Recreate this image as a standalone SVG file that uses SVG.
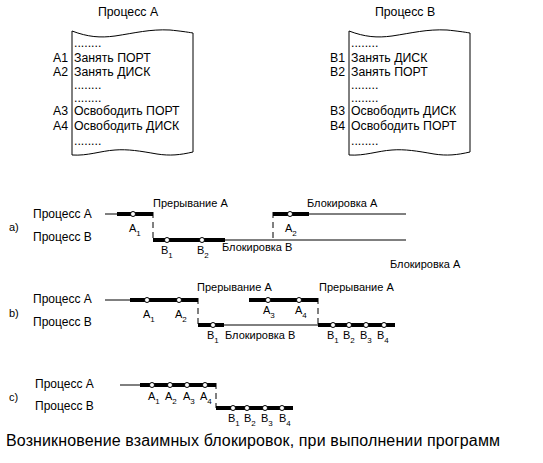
<svg xmlns="http://www.w3.org/2000/svg" width="543" height="463" viewBox="0 0 543 463">
<style>
text{font-family:"Liberation Sans",Arial,sans-serif;fill:#000}
.t{font-size:12.3px}
.p{font-size:12px}
.s{font-size:11px}
.sub{font-size:8px}
.doc{fill:#fff;stroke:#000;stroke-width:1}
.thin{stroke:#000;stroke-width:1;fill:none}
.thick{stroke:#000;stroke-width:4;fill:none}
.dash{stroke:#000;stroke-width:1;stroke-dasharray:6,4;fill:none}
.pt{fill:#fff;stroke:#000;stroke-width:1}
.cap{font-size:16px}
</style>
<rect width="543" height="463" fill="#fff"/>
<g id="doc-A">
<text class="t" x="128" y="16" text-anchor="middle">Процесс А</text>
<path class="doc" d="M72,31 C88,37 100,38 115,36 C135,33 150,29 170,30 C180,31 187,32 193,33 L193,152 C180,155 170,156 157,154 C140,151 128,149 115,150 C100,151 88,156 72,155 Z"/>
<text class="t" x="74" y="47">........</text>
<text class="t" x="53" y="62">А1</text><text class="t" x="74" y="62">Занять ПОРТ</text>
<text class="t" x="53" y="76">А2</text><text class="t" x="74" y="76">Занять ДИСК</text>
<text class="t" x="74" y="89">........</text>
<text class="t" x="74" y="102">........</text>
<text class="t" x="53" y="115">А3</text><text class="t" x="74" y="115">Освободить ПОРТ</text>
<text class="t" x="53" y="130">А4</text><text class="t" x="74" y="130">Освободить ДИСК</text>
<text class="t" x="74" y="145">........</text>
</g>
<g id="doc-B">
<text class="t" x="405" y="16" text-anchor="middle">Процесс В</text>
<path class="doc" d="M349,31 C365,37 377,38 392,36 C412,33 427,29 447,30 C457,31 464,32 470,33 L470,152 C457,155 447,156 434,154 C417,151 405,149 392,150 C377,151 365,156 349,155 Z"/>
<text class="t" x="351" y="47">........</text>
<text class="t" x="330" y="62">В1</text><text class="t" x="351" y="62">Занять ДИСК</text>
<text class="t" x="330" y="76">В2</text><text class="t" x="351" y="76">Занять ПОРТ</text>
<text class="t" x="351" y="89">........</text>
<text class="t" x="351" y="102">........</text>
<text class="t" x="330" y="115">В3</text><text class="t" x="351" y="115">Освободить ДИСК</text>
<text class="t" x="330" y="130">В4</text><text class="t" x="351" y="130">Освободить ПОРТ</text>
<text class="t" x="351" y="145">........</text>
</g>
<g id="labels">
<text class="s" x="9" y="231">а)</text>
<text class="p" x="33" y="218">Процесс А</text>
<text class="p" x="33" y="241">Процесс В</text>
<text class="s" x="9" y="317">b)</text>
<text class="p" x="33" y="303">Процесс А</text>
<text class="p" x="33" y="326">Процесс В</text>
<text class="s" x="9" y="401">с)</text>
<text class="p" x="35" y="388">Процесс А</text>
<text class="p" x="35" y="410">Процесс В</text>
<text class="cap" x="6" y="446" textLength="494" lengthAdjust="spacing">Возникновение взаимных блокировок, при выполнении программ</text>
</g>
<g id="connectors">
<line class="thin" x1="105" y1="214" x2="117" y2="214"/>
<line class="thick" x1="117" y1="214" x2="153" y2="214"/>
<line class="dash" x1="153" y1="212" x2="153" y2="240"/>
<line class="thick" x1="153" y1="240" x2="225" y2="240"/>
<line class="thin" x1="225" y1="240" x2="406" y2="240"/>
<line class="dash" x1="273" y1="212" x2="273" y2="240"/>
<line class="thick" x1="273" y1="214" x2="309" y2="214"/>
<line class="thin" x1="309" y1="214" x2="406" y2="214"/>
<line class="thin" x1="105" y1="300" x2="130" y2="300"/>
<line class="thick" x1="130" y1="300" x2="198" y2="300"/>
<line class="dash" x1="198" y1="298" x2="198" y2="325"/>
<line class="thick" x1="198" y1="325" x2="224" y2="325"/>
<line class="thin" x1="224" y1="325" x2="319" y2="325"/>
<line class="thick" x1="249" y1="300" x2="318" y2="300"/>
<line class="dash" x1="318" y1="298" x2="318" y2="325"/>
<line class="thick" x1="318" y1="325" x2="395" y2="325"/>
<line class="thin" x1="120" y1="385" x2="140" y2="385"/>
<line class="thick" x1="140" y1="385" x2="216" y2="385"/>
<line class="dash" x1="216" y1="383" x2="216" y2="408"/>
<line class="thick" x1="216" y1="408" x2="293" y2="408"/>
</g>
<g id="points">
<circle class="pt" cx="133" cy="214" r="2.5"/>
<circle class="pt" cx="167" cy="240" r="2.5"/>
<circle class="pt" cx="202" cy="240" r="2.5"/>
<circle class="pt" cx="290" cy="214" r="2.5"/>
<circle class="pt" cx="147" cy="300" r="2.5"/>
<circle class="pt" cx="179" cy="300" r="2.5"/>
<circle class="pt" cx="213" cy="325" r="2.5"/>
<circle class="pt" cx="268" cy="300" r="2.5"/>
<circle class="pt" cx="299" cy="300" r="2.5"/>
<circle class="pt" cx="333" cy="325" r="2.5"/>
<circle class="pt" cx="349" cy="325" r="2.5"/>
<circle class="pt" cx="366" cy="325" r="2.5"/>
<circle class="pt" cx="384" cy="325" r="2.5"/>
<circle class="pt" cx="152" cy="385" r="2.5"/>
<circle class="pt" cx="170" cy="385" r="2.5"/>
<circle class="pt" cx="187" cy="385" r="2.5"/>
<circle class="pt" cx="205" cy="385" r="2.5"/>
<circle class="pt" cx="233" cy="408" r="2.5"/>
<circle class="pt" cx="247" cy="408" r="2.5"/>
<circle class="pt" cx="265" cy="408" r="2.5"/>
<circle class="pt" cx="282" cy="408" r="2.5"/>
</g>
<g id="point-labels">
<text class="s" x="129" y="232">А<tspan class="sub" dy="4">1</tspan></text>
<text class="s" x="161" y="254">В<tspan class="sub" dy="4">1</tspan></text>
<text class="s" x="197" y="254">В<tspan class="sub" dy="4">2</tspan></text>
<text class="s" x="285" y="232">А<tspan class="sub" dy="4">2</tspan></text>
<text class="s" x="153" y="207">Прерывание А</text>
<text class="s" x="222" y="251">Блокировка В</text>
<text class="s" x="307" y="207">Блокировка А</text>
<text class="s" x="390" y="268">Блокировка А</text>
<text class="s" x="143" y="318">А<tspan class="sub" dy="4">1</tspan></text>
<text class="s" x="175" y="318">А<tspan class="sub" dy="4">2</tspan></text>
<text class="s" x="207" y="339">В<tspan class="sub" dy="4">1</tspan></text>
<text class="s" x="225" y="339">Блокировка В</text>
<text class="s" x="197" y="291">Прерывание А</text>
<text class="s" x="319" y="291">Прерывание А</text>
<text class="s" x="263" y="314">А<tspan class="sub" dy="4">3</tspan></text>
<text class="s" x="295" y="314">А<tspan class="sub" dy="4">4</tspan></text>
<text class="s" x="327" y="339">В<tspan class="sub" dy="4">1</tspan></text>
<text class="s" x="343" y="339">В<tspan class="sub" dy="4">2</tspan></text>
<text class="s" x="360" y="339">В<tspan class="sub" dy="4">3</tspan></text>
<text class="s" x="377" y="339">В<tspan class="sub" dy="4">4</tspan></text>
<text class="s" x="148" y="400">А<tspan class="sub" dy="4">1</tspan></text>
<text class="s" x="165" y="400">А<tspan class="sub" dy="4">2</tspan></text>
<text class="s" x="183" y="400">А<tspan class="sub" dy="4">3</tspan></text>
<text class="s" x="200" y="400">А<tspan class="sub" dy="4">4</tspan></text>
<text class="s" x="228" y="422">В<tspan class="sub" dy="4">1</tspan></text>
<text class="s" x="244" y="422">В<tspan class="sub" dy="4">2</tspan></text>
<text class="s" x="261" y="422">В<tspan class="sub" dy="4">3</tspan></text>
<text class="s" x="279" y="422">В<tspan class="sub" dy="4">4</tspan></text>
</g>
</svg>
